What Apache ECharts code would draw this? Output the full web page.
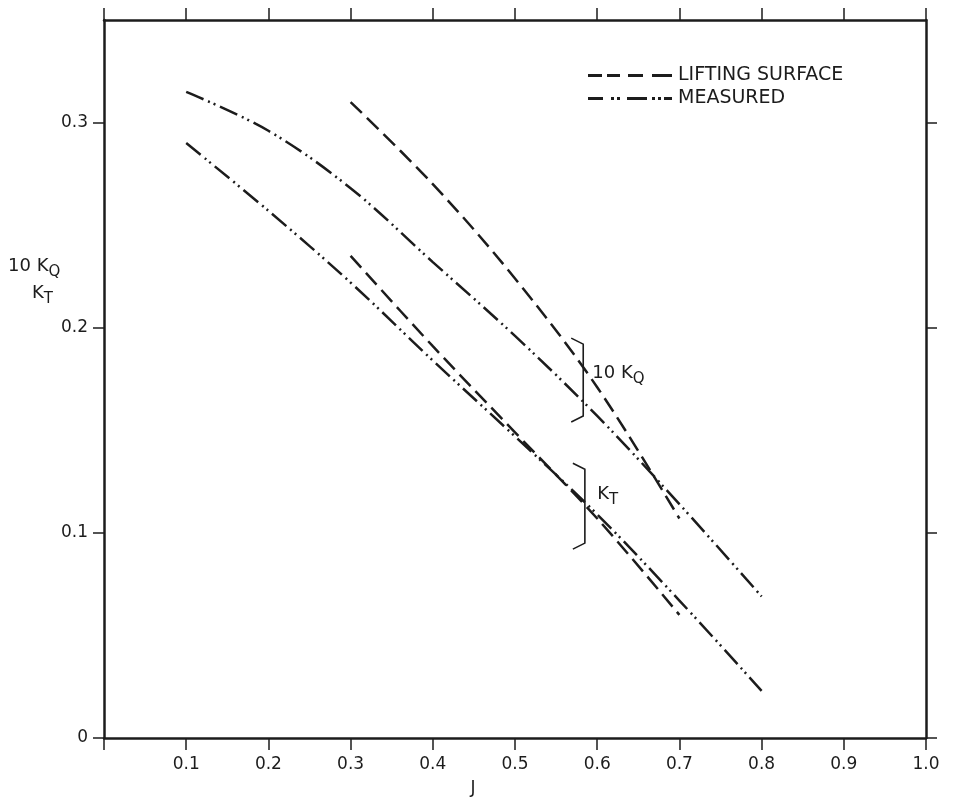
<!DOCTYPE html>
<html><head><meta charset="utf-8">
<script src="https://cdn.jsdelivr.net/npm/echarts@6/dist/echarts.min.js"></script>
<style>html,body{margin:0;padding:0;background:#fff}#c{width:953px;height:802px}</style>
</head><body><div id="c"></div>
<script>
// ---- data ----
const jMeasured  = [0.1, 0.2, 0.3, 0.4, 0.5, 0.6, 0.7, 0.8];
const kqMeasured = [0.315, 0.296, 0.268, 0.232, 0.196, 0.157, 0.114, 0.069];
const ktMeasured = [0.290, 0.257, 0.222, 0.184, 0.147, 0.109, 0.067, 0.023];
const jLifting   = [0.3, 0.4, 0.5, 0.6, 0.7];
const kqLifting  = [0.310, 0.270, 0.224, 0.171, 0.107];
const ktLifting  = [0.235, 0.191, 0.149, 0.107, 0.060];
const legendNames = ['LIFTING SURFACE', 'MEASURED'];
const xTickValues = [0, 0.1, 0.2, 0.3, 0.4, 0.5, 0.6, 0.7, 0.8, 0.9, 1.0];
const xTickLabels = ['', '0.1','0.2','0.3','0.4','0.5','0.6','0.7','0.8','0.9','1.0'];
const yTickValues = [0, 0.1, 0.2, 0.3];
const yTickLabels = ['0','0.1','0.2','0.3'];

const INK = '#1c1c1c';
const FONT = 'DejaVu Sans';
const pairs = (xs, ys) => xs.map((x, i) => [x, ys[i]]);
const dashLS = [16, 7];
const dashMS = [19, 5, 2, 4, 2, 5];

const chart = echarts.init(document.getElementById('c'), null, {renderer: 'canvas'});

function axis(extra) {
  return Object.assign({
    type: 'value',
    axisLine: {show: true, onZero: false, lineStyle: {color: INK, width: 2.5}},
    axisTick: {show: true, inside: false, length: 12, lineStyle: {color: INK, width: 1.5}},
    splitLine: {show: false},
    minorTick: {show: false}
  }, extra);
}
const xLabelFmt = v => { const i = xTickValues.findIndex(t => Math.abs(t - v) < 1e-6); return i >= 0 ? xTickLabels[i] : ''; };
const yLabelFmt = v => { const i = yTickValues.findIndex(t => Math.abs(t - v) < 1e-6); return i >= 0 ? yTickLabels[i] : ''; };

const option = {
  animation: false,
  backgroundColor: '#fff',
  grid: {left: 104, right: 27, top: 20, bottom: 52, containLabel: false},
  xAxis: [
    axis({
      position: 'bottom', min: 0, max: 1, interval: 0.1,
      name: 'J', nameLocation: 'middle', nameGap: 42,
      nameTextStyle: {color: INK, fontFamily: FONT, fontSize: 17, padding: [0, 84, 0, 0]},
      axisTick: {show: true, inside: false, length: 12, customValues: xTickValues, lineStyle: {color: INK, width: 1.5}},
      axisLabel: {color: INK, fontFamily: FONT, fontSize: 17, margin: 18, customValues: xTickValues, formatter: xLabelFmt}
    }),
    axis({
      position: 'top', min: 0, max: 1, interval: 0.1,
      axisTick: {show: true, inside: false, length: 12, customValues: xTickValues, lineStyle: {color: INK, width: 1.5}},
      axisLabel: {show: false}
    })
  ],
  yAxis: [
    axis({
      position: 'left', min: 0, max: 0.35, interval: 0.1,
      axisTick: {show: true, inside: false, length: 11, customValues: yTickValues, lineStyle: {color: INK, width: 1.5}},
      axisLabel: {color: INK, fontFamily: FONT, fontSize: 17, margin: 16, customValues: yTickValues, formatter: yLabelFmt}
    }),
    axis({
      position: 'right', min: 0, max: 0.35, interval: 0.1,
      axisTick: {show: true, inside: false, length: 11, customValues: yTickValues, lineStyle: {color: INK, width: 1.5}},
      axisLabel: {show: false}
    })
  ],
  legend: {
    orient: 'vertical', left: 583, top: 61, itemGap: 4,
    itemWidth: 84, itemHeight: 3,
    textStyle: {color: INK, fontFamily: FONT, fontSize: 19, padding: [0, 0, 0, 1]},
    data: [
      {name: legendNames[0], icon: 'path://M0,0H14V3H0Z M19,0H32V3H19Z M40,0H55V3H40Z M64,0H84V3H64Z'},
      {name: legendNames[1], icon: 'path://M0,0H15V3H0Z M23,0H26V3H23Z M29,0H32V3H29Z M39,0H59V3H39Z M64,0H67V3H64Z M70,0H73V3H70Z M76,0H84V3H76Z'}
    ]
  },
  series: [
    {name: legendNames[0], type: 'line', data: pairs(jLifting, kqLifting), smooth: 0.35, showSymbol: false,
     lineStyle: {color: INK, width: 2.5, type: dashLS}, itemStyle: {color: INK}},
    {name: legendNames[0], type: 'line', data: pairs(jLifting, ktLifting), smooth: 0.35, showSymbol: false,
     lineStyle: {color: INK, width: 2.5, type: dashLS}, itemStyle: {color: INK}},
    {name: legendNames[1], type: 'line', data: pairs(jMeasured, kqMeasured), smooth: 0.35, showSymbol: false,
     lineStyle: {color: INK, width: 2.5, type: dashMS}, itemStyle: {color: INK}},
    {name: legendNames[1], type: 'line', data: pairs(jMeasured, ktMeasured), smooth: 0.35, showSymbol: false,
     lineStyle: {color: INK, width: 2.5, type: dashMS}, itemStyle: {color: INK}}
  ]
};
chart.setOption(option);

// ---- annotations (brackets and labels), anchored in data space ----
function bracket(j, lo, hi) {
  const top = chart.convertToPixel({gridIndex: 0}, [j, hi]);
  const bot = chart.convertToPixel({gridIndex: 0}, [j, lo]);
  return {
    type: 'polyline', silent: true,
    shape: {points: [[top[0] - 12, top[1] - 6], [top[0], top[1]], [bot[0], bot[1]], [bot[0] - 12, bot[1] + 6]]},
    style: {stroke: INK, lineWidth: 1.6, fill: null}
  };
}
const rich = {sub: {fontSize: 15, fontFamily: FONT, fill: INK, padding: [12, 0, 0, 0]},
              n: {fontSize: 18, fontFamily: FONT, fill: INK}};
function label(j, v, txt) {
  const p = chart.convertToPixel({gridIndex: 0}, [j, v]);
  return {type: 'text', silent: true, x: p[0], y: p[1],
    style: {text: txt, fill: INK, verticalAlign: 'middle', rich: rich}};
}
chart.setOption({graphic: [
  bracket(0.583, 0.157, 0.192),
  bracket(0.585, 0.095, 0.131),
  label(0.594, 0.178, '{n|10 K}{sub|Q}'),
  label(0.6, 0.119, '{n|K}{sub|T}'),
  {type: 'text', silent: true, left: 8, top: 257, style: {text: '{n|10 K}{sub|Q}', rich: rich, fill: INK}},
  {type: 'text', silent: true, left: 32, top: 284, style: {text: '{n|K}{sub|T}', rich: rich, fill: INK}}
]});
</script></body></html>
